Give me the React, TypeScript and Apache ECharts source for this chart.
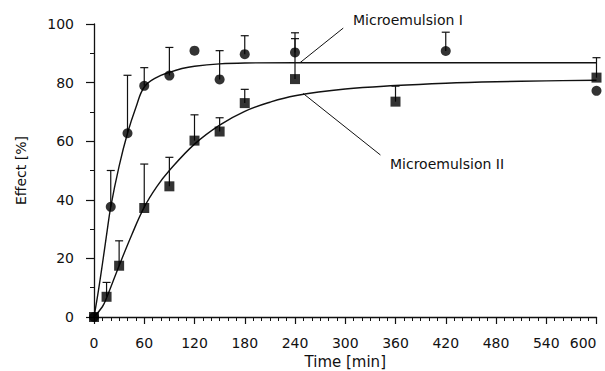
import React, { useEffect, useRef } from "react";
import * as echarts from "echarts";

// Microemulsion I (circles)
const timeI = [0, 20, 40, 60, 90, 120, 150, 180, 240, 420, 600];
const effectI = [0, 37.6, 62.7, 78.9, 82.4, 90.9, 81.1, 89.7, 90.3, 90.8, 77.2];
const errTopI = [null, 50.0, 82.5, 85.1, 92.0, null, 90.9, 96.0, 97.0, 97.2, null];

// Microemulsion II (squares)
const timeII = [0, 15, 30, 60, 90, 120, 150, 180, 240, 360, 600];
const effectII = [0, 6.9, 17.5, 37.2, 44.6, 60.2, 63.3, 73.0, 81.2, 73.5, 81.7];
const errTopII = [null, 11.8, 26.0, 52.2, 54.5, 69.0, 68.0, 77.7, 95.0, 78.8, 88.5];

// fitted curves
const fitTimeI = [0, 5, 10, 15, 20, 30, 40, 50, 60, 75, 90, 105, 120, 150, 180, 240, 300, 420, 600];
const fitI = [0, 8.5, 18, 28, 37.6, 51.5, 62.7, 71.5, 78.5, 81.8, 83.5, 84.8, 85.6, 86.4, 86.7, 86.8, 86.8, 86.8, 86.8];
const fitTimeII = [0, 10, 15, 30, 45, 60, 75, 90, 120, 150, 180, 210, 240, 300, 360, 420, 480, 540, 600];
const fitII = [0, 3.5, 6.5, 17.5, 28, 37.5, 44.5, 50, 59, 65.5, 70.2, 73.3, 75.5, 77.8, 79, 79.8, 80.3, 80.6, 80.8];

// annotation leader lines [time, effect]
const leaderI = [[297.6, 98.6], [246, 86.8]];
const leaderII = [[342, 55.3], [249.7, 76.3]];
const labelI = "Microemulsion I";
const labelII = "Microemulsion II";

const xTicks = { min: 0, max: 600, interval: 60 };
const yTicks = { min: 0, max: 100, interval: 20 };

const FONT = "DejaVu Sans";
const INK = "#111";

function errData(t: number[], v: number[], top: (number | null)[]) {
  const out: number[][] = [];
  t.forEach((x, i) => {
    if (top[i] != null) out.push([x, v[i], top[i] as number]);
  });
  return out;
}

function renderErr(params: any, api: any) {
  const x = api.value(0);
  const p0 = api.coord([x, api.value(1)]);
  const p1 = api.coord([x, api.value(2)]);
  const half = 4;
  return {
    type: "group",
    children: [
      { type: "line", shape: { x1: p0[0], y1: p0[1], x2: p1[0], y2: p1[1] }, style: { stroke: INK, lineWidth: 1.2 } },
      { type: "line", shape: { x1: p1[0] - half, y1: p1[1], x2: p1[0] + half, y2: p1[1] }, style: { stroke: INK, lineWidth: 1.2 } },
    ],
  };
}

export default function App() {
  const ref = useRef<HTMLDivElement>(null);
  useEffect(() => {
    if (!ref.current) return;
    const chart = echarts.init(ref.current, null, { renderer: "svg" });
    const zip = (a: number[], b: number[]) => a.map((x, i) => [x, b[i]]);
    chart.setOption({
      animation: false,
      backgroundColor: "#fff",
      textStyle: { fontFamily: FONT, color: INK },
      grid: { left: 94, right: 8.5, top: 24, bottom: 54, containLabel: false, outerBoundsMode: "none" },
      xAxis: {
        type: "value",
        ...xTicks,
        name: "Time [min]",
        nameLocation: "middle",
        nameGap: 35,
        nameTextStyle: { fontFamily: FONT, fontSize: 15, color: INK },
        axisLine: { show: true, lineStyle: { color: INK, width: 1.3 } },
        axisTick: { show: true, length: 7, lineStyle: { color: INK, width: 1.2 } },
        minorTick: { show: true, splitNumber: 6, length: 4, lineStyle: { color: INK, width: 1 } },
        axisLabel: { fontFamily: FONT, fontSize: 14, color: INK, margin: 19, alignMaxLabel: "right" },
        splitLine: { show: false },
      },
      yAxis: {
        type: "value",
        ...yTicks,
        name: "Effect [%]",
        nameLocation: "middle",
        nameGap: 66,
        nameTextStyle: { fontFamily: FONT, fontSize: 14, color: INK },
        axisLine: { show: true, lineStyle: { color: INK, width: 1.3 } },
        axisTick: { show: true, length: 8, lineStyle: { color: INK, width: 1.2 } },
        minorTick: { show: true, splitNumber: 2, length: 4, lineStyle: { color: INK, width: 1 } },
        axisLabel: { fontFamily: FONT, fontSize: 14, color: INK, margin: 20 },
        splitLine: { show: false },
      },
      series: [
        {
          type: "line",
          data: zip(fitTimeI, fitI),
          smooth: 0.4,
          symbol: "none",
          lineStyle: { color: INK, width: 1.4 },
          z: 2,
        },
        {
          type: "line",
          data: zip(fitTimeII, fitII),
          smooth: 0.4,
          symbol: "none",
          lineStyle: { color: INK, width: 1.4 },
          z: 2,
        },
        {
          type: "line",
          data: leaderI,
          symbol: "none",
          lineStyle: { color: INK, width: 1 },
          z: 2,
        },
        {
          type: "line",
          data: leaderII,
          symbol: "none",
          lineStyle: { color: INK, width: 1 },
          z: 2,
        },
        { type: "custom", renderItem: renderErr, data: errData(timeI, effectI, errTopI), z: 3 },
        { type: "custom", renderItem: renderErr, data: errData(timeII, effectII, errTopII), z: 3 },
        {
          type: "scatter",
          data: zip(timeI, effectI),
          symbol: "circle",
          symbolSize: 10,
          itemStyle: { color: "#000" },
          z: 4,
        },
        {
          type: "scatter",
          data: zip(timeII, effectII),
          symbol: "rect",
          symbolSize: 10,
          itemStyle: { color: "#000" },
          z: 4,
        },
      ],
      graphic: [
        {
          type: "text",
          x: 353,
          y: 20,
          style: { text: labelI, fontFamily: FONT, fontSize: 14, fill: INK, verticalAlign: "middle" },
        },
        {
          type: "text",
          x: 390,
          y: 164,
          style: { text: labelII, fontFamily: FONT, fontSize: 14, fill: INK, verticalAlign: "middle" },
        },
      ],
    });
    return () => chart.dispose();
  }, []);
  return (
    <div
      ref={ref}
      style={{ position: "fixed", left: 0, top: 0, width: 605, height: 371, background: "#fff" }}
    />
  );
}
